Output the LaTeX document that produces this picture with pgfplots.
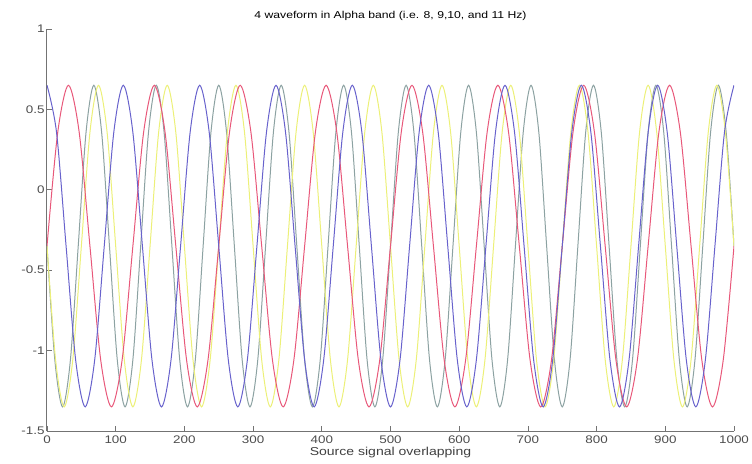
\documentclass[border=0pt]{standalone}
\usepackage{pgfplots}
\pgfplotsset{compat=1.18}
\usepackage{fontspec}
\setmainfont{Liberation Sans}[FakeStretch=1.22]
\definecolor{wred}{RGB}{232,88,122}
\definecolor{wblue}{RGB}{104,98,204}
\definecolor{wyel}{RGB}{236,240,120}
\definecolor{wgray}{RGB}{140,162,162}
\begin{document}
\begin{tikzpicture}
\begin{axis}[
    name=ax,
    width=687pt, height=402pt, scale only axis,
    xmin=0, xmax=1000, ymin=-1.5, ymax=1,
    xtick={0,100,...,1000},
    ytick={-1.5,-1,-0.5,0,0.5,1},
    axis lines*=left,
    axis line style={black!55, line width=1pt},
    tick style={black!55, line width=0.8pt},
    tick align=inside,
    major tick length=5pt,
    ticklabel style={font=\fontsize{11}{12}\selectfont, text=black!70},
    yticklabel style={xshift=1pt},
    xticklabel style={yshift=-1pt},
    /pgf/number format/assume math mode=true,
    /pgf/number format/1000 sep={},
    title={4 waveform in Alpha band (i.e. 8, 9,10, and 11 Hz)},
    title style={font=\fontsize{10}{11}\selectfont, yshift=-1pt},
    xlabel={Source signal overlapping},
    xlabel style={font=\fontsize{11.5}{12}\selectfont, text=black!75, yshift=3pt},
    every axis plot/.append style={smooth, line width=1pt, no marks},
]
% 11 Hz
\addplot[wgray] coordinates {
(0,-0.35) (11.364,-1.057) (22.727,-1.35) (34.091,-1.057) (45.455,-0.35) (56.818,0.357) (68.182,0.65) (79.545,0.357)
(90.909,-0.35) (102.273,-1.057) (113.636,-1.35) (125,-1.057) (136.364,-0.35) (147.727,0.357) (159.091,0.65) (170.455,0.357)
(181.818,-0.35) (193.182,-1.057) (204.545,-1.35) (215.909,-1.057) (227.273,-0.35) (238.636,0.357) (250,0.65) (261.364,0.357)
(272.727,-0.35) (284.091,-1.057) (295.455,-1.35) (306.818,-1.057) (318.182,-0.35) (329.545,0.357) (340.909,0.65) (352.273,0.357)
(363.636,-0.35) (375,-1.057) (386.364,-1.35) (397.727,-1.057) (409.091,-0.35) (420.455,0.357) (431.818,0.65) (443.182,0.357)
(454.545,-0.35) (465.909,-1.057) (477.273,-1.35) (488.636,-1.057) (500,-0.35) (511.364,0.357) (522.727,0.65) (534.091,0.357)
(545.455,-0.35) (556.818,-1.057) (568.182,-1.35) (579.545,-1.057) (590.909,-0.35) (602.273,0.357) (613.636,0.65) (625,0.357)
(636.364,-0.35) (647.727,-1.057) (659.091,-1.35) (670.455,-1.057) (681.818,-0.35) (693.182,0.357) (704.545,0.65) (715.909,0.357)
(727.273,-0.35) (738.636,-1.057) (750,-1.35) (761.364,-1.057) (772.727,-0.35) (784.091,0.357) (795.455,0.65) (806.818,0.357)
(818.182,-0.35) (829.545,-1.057) (840.909,-1.35) (852.273,-1.057) (863.636,-0.35) (875,0.357) (886.364,0.65) (897.727,0.357)
(909.091,-0.35) (920.455,-1.057) (931.818,-1.35) (943.182,-1.057) (954.545,-0.35) (965.909,0.357) (977.273,0.65) (988.636,0.357)
(1000,-0.35)
};
% 10 Hz
\addplot[wyel] coordinates {
(0,-0.35) (12.5,-1.057) (25,-1.35) (37.5,-1.057) (50,-0.35) (62.5,0.357) (75,0.65) (87.5,0.357)
(100,-0.35) (112.5,-1.057) (125,-1.35) (137.5,-1.057) (150,-0.35) (162.5,0.357) (175,0.65) (187.5,0.357)
(200,-0.35) (212.5,-1.057) (225,-1.35) (237.5,-1.057) (250,-0.35) (262.5,0.357) (275,0.65) (287.5,0.357)
(300,-0.35) (312.5,-1.057) (325,-1.35) (337.5,-1.057) (350,-0.35) (362.5,0.357) (375,0.65) (387.5,0.357)
(400,-0.35) (412.5,-1.057) (425,-1.35) (437.5,-1.057) (450,-0.35) (462.5,0.357) (475,0.65) (487.5,0.357)
(500,-0.35) (512.5,-1.057) (525,-1.35) (537.5,-1.057) (550,-0.35) (562.5,0.357) (575,0.65) (587.5,0.357)
(600,-0.35) (612.5,-1.057) (625,-1.35) (637.5,-1.057) (650,-0.35) (662.5,0.357) (675,0.65) (687.5,0.357)
(700,-0.35) (712.5,-1.057) (725,-1.35) (737.5,-1.057) (750,-0.35) (762.5,0.357) (775,0.65) (787.5,0.357)
(800,-0.35) (812.5,-1.057) (825,-1.35) (837.5,-1.057) (850,-0.35) (862.5,0.357) (875,0.65) (887.5,0.357)
(900,-0.35) (912.5,-1.057) (925,-1.35) (937.5,-1.057) (950,-0.35) (962.5,0.357) (975,0.65) (987.5,0.357)
(1000,-0.35)
};
% 8 Hz
\addplot[wred] coordinates {
(0,-0.35) (15.625,0.357) (31.25,0.65) (46.875,0.357) (62.5,-0.35) (78.125,-1.057) (93.75,-1.35) (109.375,-1.057)
(125,-0.35) (140.625,0.357) (156.25,0.65) (171.875,0.357) (187.5,-0.35) (203.125,-1.057) (218.75,-1.35) (234.375,-1.057)
(250,-0.35) (265.625,0.357) (281.25,0.65) (296.875,0.357) (312.5,-0.35) (328.125,-1.057) (343.75,-1.35) (359.375,-1.057)
(375,-0.35) (390.625,0.357) (406.25,0.65) (421.875,0.357) (437.5,-0.35) (453.125,-1.057) (468.75,-1.35) (484.375,-1.057)
(500,-0.35) (515.625,0.357) (531.25,0.65) (546.875,0.357) (562.5,-0.35) (578.125,-1.057) (593.75,-1.35) (609.375,-1.057)
(625,-0.35) (640.625,0.357) (656.25,0.65) (671.875,0.357) (687.5,-0.35) (703.125,-1.057) (718.75,-1.35) (734.375,-1.057)
(750,-0.35) (765.625,0.357) (781.25,0.65) (796.875,0.357) (812.5,-0.35) (828.125,-1.057) (843.75,-1.35) (859.375,-1.057)
(875,-0.35) (890.625,0.357) (906.25,0.65) (921.875,0.357) (937.5,-0.35) (953.125,-1.057) (968.75,-1.35) (984.375,-1.057)
(1000,-0.35)
};
% 9 Hz
\addplot[wblue] coordinates {
(0,0.65) (13.889,0.357) (27.778,-0.35) (41.667,-1.057) (55.556,-1.35) (69.444,-1.057) (83.333,-0.35) (97.222,0.357)
(111.111,0.65) (125,0.357) (138.889,-0.35) (152.778,-1.057) (166.667,-1.35) (180.556,-1.057) (194.444,-0.35) (208.333,0.357)
(222.222,0.65) (236.111,0.357) (250,-0.35) (263.889,-1.057) (277.778,-1.35) (291.667,-1.057) (305.556,-0.35) (319.444,0.357)
(333.333,0.65) (347.222,0.357) (361.111,-0.35) (375,-1.057) (388.889,-1.35) (402.778,-1.057) (416.667,-0.35) (430.556,0.357)
(444.444,0.65) (458.333,0.357) (472.222,-0.35) (486.111,-1.057) (500,-1.35) (513.889,-1.057) (527.778,-0.35) (541.667,0.357)
(555.556,0.65) (569.444,0.357) (583.333,-0.35) (597.222,-1.057) (611.111,-1.35) (625,-1.057) (638.889,-0.35) (652.778,0.357)
(666.667,0.65) (680.556,0.357) (694.444,-0.35) (708.333,-1.057) (722.222,-1.35) (736.111,-1.057) (750,-0.35) (763.889,0.357)
(777.778,0.65) (791.667,0.357) (805.556,-0.35) (819.444,-1.057) (833.333,-1.35) (847.222,-1.057) (861.111,-0.35) (875,0.357)
(888.889,0.65) (902.778,0.357) (916.667,-0.35) (930.556,-1.057) (944.444,-1.35) (958.333,-1.057) (972.222,-0.35) (986.111,0.357)
(1000,0.65)
};
\end{axis}
\pgfresetboundingbox
\path[use as bounding box] ([shift={(-47pt,-32pt)}]ax.south west) rectangle ([shift={(18pt,29pt)}]ax.north east);
\end{tikzpicture}
\end{document}
